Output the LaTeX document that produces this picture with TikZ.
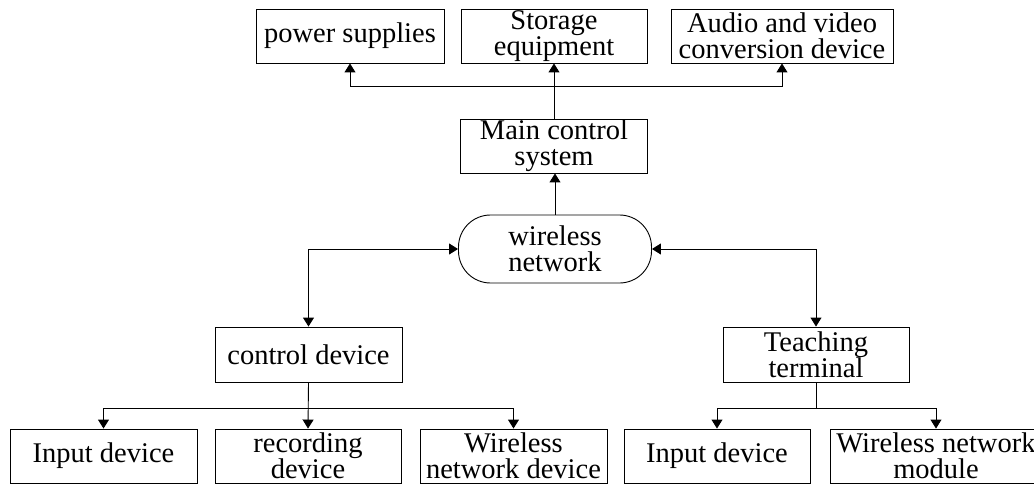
\documentclass[tikz,border=0pt]{standalone}
\usepackage{fontspec}
\setmainfont{Liberation Serif}
\usetikzlibrary{arrows.meta}
\begin{document}
\begin{tikzpicture}[x=1pt,y=-1pt,
  every node/.style={font=\fontsize{28.5}{26}\selectfont, align=center, inner sep=0pt},
  blk/.style={draw, line width=0.9pt, minimum height=54pt},
  cloud/.style={draw, line width=0.9pt, rounded corners=32pt, minimum width=193pt, minimum height=68pt},
  link/.style={line width=0.9pt},
  tip/.tip={Triangle[width=11pt,length=9pt]}]
\useasboundingbox (0,0) rectangle (1034,484);

% top row of devices
\node[blk, minimum width=188pt] (power) at (350,36) {power supplies};
\node[blk, minimum width=186pt] (storage) at (554,36) {Storage\\equipment};
\node[blk, minimum width=222pt] (audio) at (782,36) {Audio and video\\conversion device};

% core
\node[blk, minimum width=187pt] (main) at (554,146) {Main control\\system};
\node[cloud] (wireless) at (555,249) {wireless\\network};

% middle row
\node[blk, minimum width=187pt, minimum height=55pt] (control) at (308.5,354.5) {control device};
\node[blk, minimum width=186pt, minimum height=55pt] (teach) at (816,354.5) {Teaching\\terminal};

% bottom row
\node[blk, minimum width=187pt] (in1) at (103.5,456) {Input device};
\node[blk, minimum width=186pt] (rec) at (308,456) {recording\\device};
\node[blk, minimum width=187pt] (wnd) at (513.5,456) {Wireless\\network device};
\node[blk, minimum width=186pt] (in2) at (717,456) {Input device};
\node[blk, minimum width=212pt] (wnm) at (936,456) {Wireless network\\module};

% bus points
\coordinate (topbus) at (554,86);
\coordinate (lbus) at (308,408);
\coordinate (rbus) at (816,408);

% connectors
\draw[link,-tip] (main.north) -- (storage.south);
\draw[link,-tip] (topbus) -| (power.south);
\draw[link,-tip] (topbus) -| (audio.south);
\draw[link,-tip] (wireless.north) -- (main.south -| wireless.north);
\draw[link,tip-tip] (wireless.west) -| (control.north);
\draw[link,tip-tip] (wireless.east) -| (teach.north);

\draw[link,-tip] (control.south) -- (rec.north);
\draw[link,-tip] (lbus) -| (in1.north);
\draw[link,-tip] (lbus) -| (wnd.north);

\draw[link] (teach.south) -- (rbus);
\draw[link,-tip] (rbus) -| (in2.north);
\draw[link,-tip] (rbus) -| (wnm.north);
\end{tikzpicture}
\end{document}
